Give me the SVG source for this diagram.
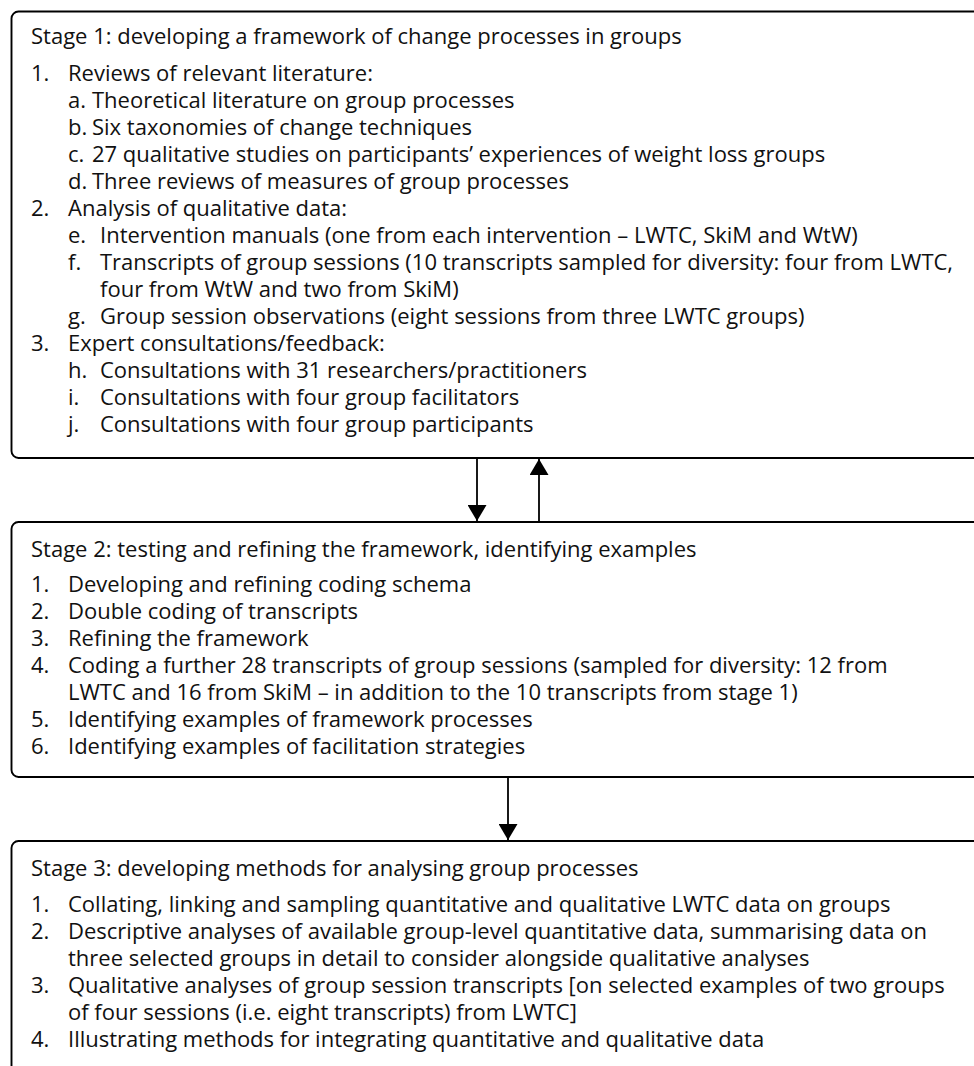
<svg xmlns="http://www.w3.org/2000/svg" width="974" height="1066" viewBox="0 0 974 1066">
  <defs>
    <!-- filled triangular arrowhead, drawn pointing along +x so orient="auto" turns it with the line -->
    <marker id="arrowhead" viewBox="0 0 16 19" refX="16" refY="9.5" markerWidth="16" markerHeight="19" markerUnits="userSpaceOnUse" orient="auto">
      <path d="M0,0 L16,9.5 L0,19 Z" fill="#000"/>
    </marker>
    <style>
      .box { fill: #fff; stroke: #000; stroke-width: 1.9; }
      .t { font-family: "Open Sans", "Noto Sans", "Liberation Sans", sans-serif; font-size: 22px; fill: #111; }
      .conn { stroke: #000; stroke-width: 1.8; fill: none; }
    </style>
  </defs>
  <rect width="974" height="1066" fill="#fff"/>

  <!-- Stage 1: numbered items at x=31/68, lettered sub-items at x=68 with text indented -->
  <g id="stage1">
    <rect class="box" x="11.5" y="11.5" width="1000" height="446.5" rx="7"/>
    <text class="t" x="31" y="44">Stage 1: developing a framework of change processes in groups</text>
    <text class="t" y="81"><tspan x="31">1.</tspan><tspan x="68">Reviews of relevant literature:</tspan></text>
    <text class="t" y="108"><tspan x="68">a.</tspan><tspan x="92">Theoretical literature on group processes</tspan></text>
    <text class="t" y="135"><tspan x="68">b.</tspan><tspan x="92">Six taxonomies of change techniques</tspan></text>
    <text class="t" y="162"><tspan x="68">c.</tspan><tspan x="92">27 qualitative studies on participants’ experiences of weight loss groups</tspan></text>
    <text class="t" y="189"><tspan x="68">d.</tspan><tspan x="92">Three reviews of measures of group processes</tspan></text>
    <text class="t" y="216"><tspan x="31">2.</tspan><tspan x="68">Analysis of qualitative data:</tspan></text>
    <text class="t" y="243"><tspan x="68">e.</tspan><tspan x="100">Intervention manuals (one from each intervention – LWTC, SkiM and WtW)</tspan></text>
    <text class="t" y="270"><tspan x="68">f.</tspan><tspan x="100">Transcripts of group sessions (10 transcripts sampled for diversity: four from LWTC,</tspan></text>
    <text class="t" x="100" y="297">four from WtW and two from SkiM)</text>
    <text class="t" y="324"><tspan x="68">g.</tspan><tspan x="100">Group session observations (eight sessions from three LWTC groups)</tspan></text>
    <text class="t" y="351"><tspan x="31">3.</tspan><tspan x="68">Expert consultations/feedback:</tspan></text>
    <text class="t" y="378"><tspan x="68">h.</tspan><tspan x="100">Consultations with 31 researchers/practitioners</tspan></text>
    <text class="t" y="405"><tspan x="68">i.</tspan><tspan x="100">Consultations with four group facilitators</tspan></text>
    <text class="t" y="432"><tspan x="68">j.</tspan><tspan x="100">Consultations with four group participants</tspan></text>
  </g>

  <!-- Stage 2 -->
  <g id="stage2">
    <rect class="box" x="11.5" y="522" width="1000" height="255" rx="7"/>
    <text class="t" x="31" y="557">Stage 2: testing and refining the framework, identifying examples</text>
    <text class="t" y="592"><tspan x="31">1.</tspan><tspan x="68">Developing and refining coding schema</tspan></text>
    <text class="t" y="619"><tspan x="31">2.</tspan><tspan x="68">Double coding of transcripts</tspan></text>
    <text class="t" y="646"><tspan x="31">3.</tspan><tspan x="68">Refining the framework</tspan></text>
    <text class="t" y="673"><tspan x="31">4.</tspan><tspan x="68">Coding a further 28 transcripts of group sessions (sampled for diversity: 12 from</tspan></text>
    <text class="t" x="68" y="700">LWTC and 16 from SkiM – in addition to the 10 transcripts from stage 1)</text>
    <text class="t" y="727"><tspan x="31">5.</tspan><tspan x="68">Identifying examples of framework processes</tspan></text>
    <text class="t" y="754"><tspan x="31">6.</tspan><tspan x="68">Identifying examples of facilitation strategies</tspan></text>
  </g>

  <!-- Stage 3 (box runs past the bottom edge) -->
  <g id="stage3">
    <rect class="box" x="11.5" y="841" width="1000" height="300" rx="7"/>
    <text class="t" x="31" y="876">Stage 3: developing methods for analysing group processes</text>
    <text class="t" y="912"><tspan x="31">1.</tspan><tspan x="68">Collating, linking and sampling quantitative and qualitative LWTC data on groups</tspan></text>
    <text class="t" y="939"><tspan x="31">2.</tspan><tspan x="68">Descriptive analyses of available group-level quantitative data, summarising data on</tspan></text>
    <text class="t" x="68" y="966">three selected groups in detail to consider alongside qualitative analyses</text>
    <text class="t" y="993"><tspan x="31">3.</tspan><tspan x="68">Qualitative analyses of group session transcripts [on selected examples of two groups</tspan></text>
    <text class="t" x="68" y="1020">of four sessions (i.e. eight transcripts) from LWTC]</text>
    <text class="t" y="1047"><tspan x="31">4.</tspan><tspan x="68">Illustrating methods for integrating quantitative and qualitative data</tspan></text>
  </g>

  <!-- connectors between stages -->
  <g id="connectors">
    <line class="conn" x1="477" y1="458" x2="477" y2="521" marker-end="url(#arrowhead)"/>
    <line class="conn" x1="539" y1="522" x2="539" y2="459" marker-end="url(#arrowhead)"/>
    <line class="conn" x1="508" y1="777" x2="508" y2="840" marker-end="url(#arrowhead)"/>
  </g>
</svg>
